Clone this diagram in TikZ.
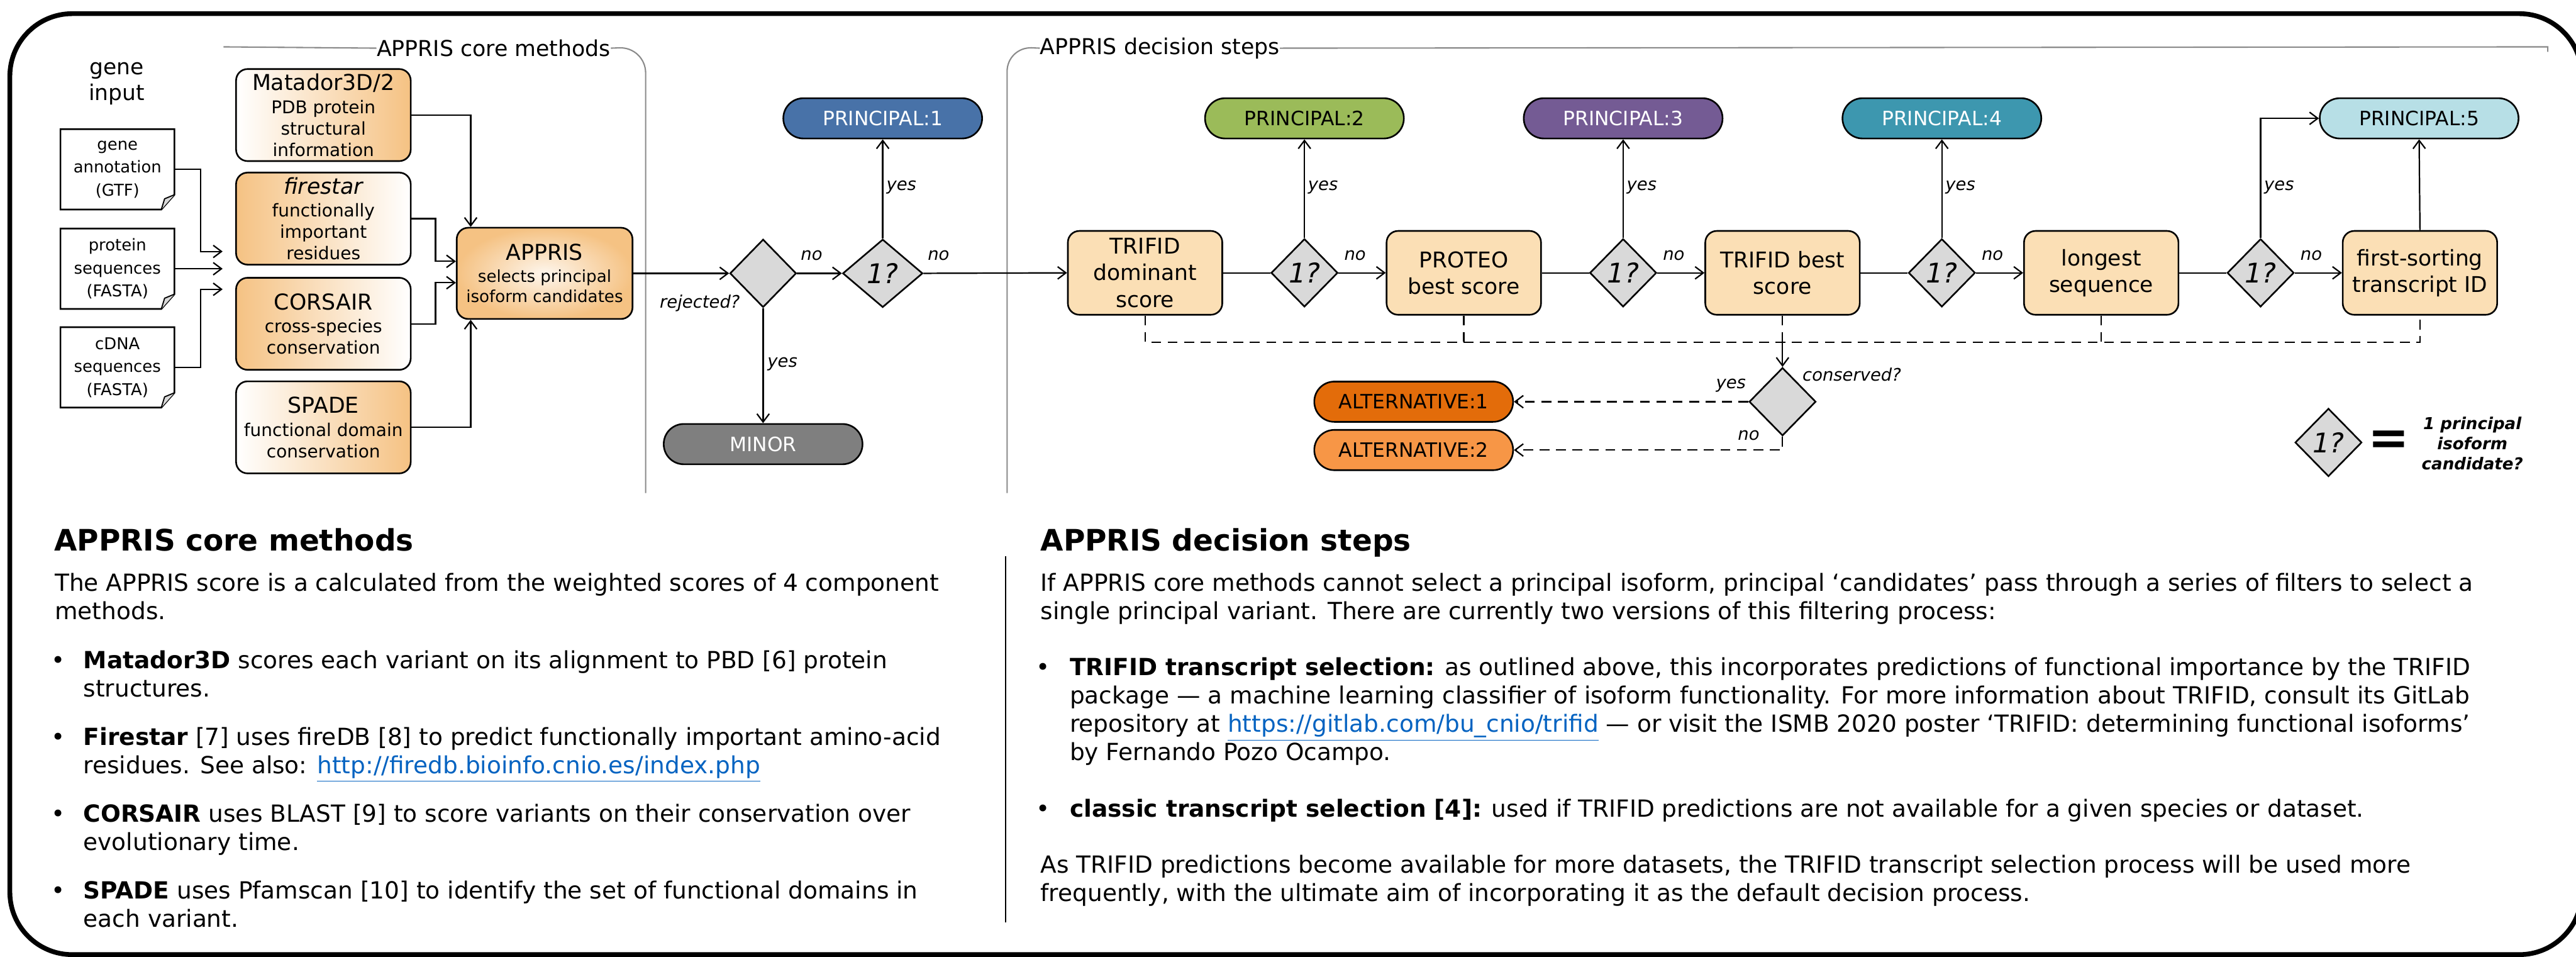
\documentclass[tikz,border=0pt]{standalone}
\usepackage{fontspec}
\setmainfont{DejaVu Sans}
\usetikzlibrary{shapes.geometric,arrows.meta,calc}
\definecolor{orng}{HTML}{F5C283}
\definecolor{peach}{HTML}{FBDFB5}
\definecolor{dgray}{HTML}{D9D9D9}
\definecolor{pblue}{HTML}{4872A8}
\definecolor{pgreen}{HTML}{9BBB59}
\definecolor{ppurple}{HTML}{745B94}
\definecolor{pteal}{HTML}{3D97AF}
\definecolor{pcyan}{HTML}{B7DFE6}
\definecolor{altA}{HTML}{E36C0A}
\definecolor{altB}{HTML}{F79646}
\definecolor{mgray}{HTML}{7F7F7F}
\definecolor{brk}{HTML}{8A8A8A}
\definecolor{lnk}{HTML}{0563C1}
\newcommand{\fs}[2]{\fontsize{#1}{#2}\selectfont}
\newcommand{\lnktxt}[1]{\textcolor{lnk}{\underline{#1}}}
\tikzset{
  conn/.style={line width=0.85pt, draw=black},
  arr/.style={conn, -{Straight Barb[length=5pt,width=7.5pt]}},
  dsh/.style={conn, dash pattern=on 6pt off 4pt},
  darr/.style={dsh, -{Straight Barb[length=5pt,width=7.5pt]}},
  brkline/.style={draw=brk, line width=0.8pt},
  method/.style={draw, line width=1pt, rounded corners=7pt, minimum width=106.3pt, minimum height=56pt, align=center, inner sep=0pt, font=\fs{10.7}{13}},
  dstep/.style={draw, line width=1pt, fill=peach, rounded corners=7pt, minimum width=94pt, minimum height=51pt, align=center, inner sep=0pt, font=\fs{13.2}{16.1}},
  dia/.style={diamond, draw, line width=1pt, fill=dgray, minimum width=40.6pt, minimum height=41.4pt, inner sep=0pt, font=\fs{16.5}{18}\itshape},
  pill/.style={draw, line width=1pt, rounded corners=12.2pt, minimum width=121pt, minimum height=24.5pt, inner sep=0pt, font=\fs{12}{14}},
  lbl/.style={font=\fs{10.5}{12}\itshape, inner sep=0pt},
  doc/.style={minimum width=69pt, minimum height=48.5pt, align=center, inner sep=0pt, font=\fs{9.9}{14}},
  bt/.style={anchor=base west, inner sep=0pt, font=\fs{14.35}{17}},
  hd/.style={anchor=base west, inner sep=0pt, font=\fs{18}{21}\bfseries},
  sect/.style={inner sep=0pt, font=\fs{13.3}{15}}
}
\begin{document}
\begin{tikzpicture}[x=1pt,y=-1pt]
\path[use as bounding box, fill=white] (0,0) rectangle (1568,582);
% outer frame
\draw[line width=2.9pt, rounded corners=38pt] (6,8.3) rectangle (1571.5,580.8);

% section brackets
\node[sect] (hcore) at (300.5,29.3) {APPRIS core methods};
\draw[brkline] (136,28.5) -- (hcore.west);
\draw[brkline, rounded corners=16pt] (hcore.east) -- (393,28.5) -- (393,300);
\node[sect] (hdec) at (706,29.3) {APPRIS decision steps};
\draw[brkline, rounded corners=15pt] (hdec.west) -- (613,28.5) -- (613,300);
\draw[brkline] (hdec.east) -- (1550.8,28.5) -- (1550.8,31.5);

% gene input
\node[font=\fs{13.2}{15.6}, align=center, inner sep=0pt] (gin) at (71,50.9) {gene\\input};
\node[doc] (d1) at (71.5,103) {gene\\annotation\\(GTF)};
\node[doc] (d2) at (71.5,163.5) {protein\\sequences\\(FASTA)};
\node[doc] (d3) at (71.5,223.5) {cDNA\\sequences\\(FASTA)};
\foreach \d in {d1,d2,d3}{
  \draw[line width=1pt] (\d.north west) -- (\d.north east) -- ($(\d.south east)+(0,-9)$) -- ($(\d.south east)+(-8,0)$) -- (\d.south west) -- cycle;
  \draw[line width=0.7pt, fill=dgray] ($(\d.south east)+(0,-9)$) -- ($(\d.south east)+(-6,-6.5)$) -- ($(\d.south east)+(-8,0)$);
}
\coordinate (in1) at (135.5,153);
\coordinate (in2) at (135.5,163.5);
\coordinate (in3) at (135.5,176);
\draw[arr] (d1.east) -- ++(16,0) |- (in1);
\draw[arr] (d2.east) -- (in2);
\draw[arr] (d3.east) -- ++(16,0) |- (in3);

% core methods
\node[method, left color=white, right color=orng] (mat) at (196.85,70) {{\fs{13.3}{15}Matador3D/2}\\[1pt]PDB protein\\structural\\information};
\node[method, left color=orng, right color=white] (fire) at (196.85,133) {{\fs{13.3}{15}\itshape firestar}\\[1pt]functionally\\important\\residues};
\node[method, left color=orng, right color=white] (cors) at (196.85,197) {{\fs{13.3}{15}CORSAIR}\\[1pt]cross-species\\conservation};
\node[method, left color=white, right color=orng] (spade) at (196.85,260) {{\fs{13.3}{15}SPADE}\\[1pt]functional domain\\conservation};
\node[draw, line width=1pt, rounded corners=7pt, inner color=orng!15, outer color=orng, minimum width=107pt, minimum height=55.5pt, align=center, inner sep=0pt, font=\fs{10}{12.2}] (appris) at (331.5,166.3) {{\fs{13.3}{15}APPRIS}\\[1pt]selects principal\\isoform candidates};
\draw[arr] (mat.east) -| ([xshift=-45pt]appris.north);
\draw[arr] (spade.east) -| ([xshift=-45pt]appris.south);
\draw[arr] (fire.east) -- ++(14.6,0) |- ([yshift=7.3pt]appris.west);
\draw[arr] (cors.east) -- ++(14.6,0) |- ([yshift=-5.7pt]appris.west);

% first decisions
\node[dia, minimum width=40.4pt] (rej) at (464.5,166.3) {};
\node[dia, minimum width=48.7pt] (q0) at (537.3,166.3) {1?};
\node[pill, fill=pblue, text=white] (p1) at (537.3,72) {PRINCIPAL:1};
\node[pill, fill=mgray, text=white] (minor) at (464.5,270.2) {MINOR};
\draw[arr] (appris.east) -- (rej.west);
\draw[arr] (rej.east) -- (q0.west);
\draw[arr] (rej.south) -- (minor.north);
\draw[arr] (q0.north) -- (p1.south);
\node[lbl] (lno0) at (494,155.6) {no};
\node[lbl] (lrej) at (426,184.4) {rejected?};
\node[lbl, anchor=west] (lyes0) at (467,221.7) {yes};
\node[lbl, anchor=west] (lyes1) at (539.4,114) {yes};
\node[lbl] (lno1) at (571.3,155.6) {no};

% decision steps
\node[dstep] (b1) at (697,166) {TRIFID\\dominant\\score};
\node[dstep] (b2) at (891,166) {PROTEO\\best score};
\node[dstep] (b3) at (1085,166) {TRIFID best\\score};
\node[dstep] (b4) at (1279,166) {longest\\sequence};
\node[dstep] (b5) at (1473,166) {first-sorting\\transcript ID};
\draw[arr] (q0.east) -- (b1.west);
\node[dia] (q1) at (794,166) {1?};
\node[dia] (q2) at (988,166) {1?};
\node[dia] (q3) at (1182,166) {1?};
\node[dia] (q4) at (1376,166) {1?};
\node[pill, fill=pgreen] (p2) at (794,72) {PRINCIPAL:2};
\node[pill, fill=ppurple, text=white] (p3) at (988,72) {PRINCIPAL:3};
\node[pill, fill=pteal, text=white] (p4) at (1182,72) {PRINCIPAL:4};
\node[pill, fill=pcyan] (p5) at (1472.5,72) {PRINCIPAL:5};
\draw[conn] (b1.east) -- (q1.west);
\draw[conn] (b2.east) -- (q2.west);
\draw[conn] (b3.east) -- (q3.west);
\draw[conn] (b4.east) -- (q4.west);
\draw[arr] (q1.east) -- (b2.west);
\draw[arr] (q2.east) -- (b3.west);
\draw[arr] (q3.east) -- (b4.west);
\draw[arr] (q4.east) -- (b5.west);
\draw[arr] (q1.north) -- (p2.south);
\draw[arr] (q2.north) -- (p3.south);
\draw[arr] (q3.north) -- (p4.south);
\draw[arr] (q4.north) |- (p5.west);
\draw[arr] (b5.north) -- (p5.south);
\node[lbl, anchor=west] (lyes2) at (796,114) {yes};
\node[lbl, anchor=west] (lyes3) at (990,114) {yes};
\node[lbl, anchor=west] (lyes4) at (1184,114) {yes};
\node[lbl, anchor=west] (lyes5) at (1378,114) {yes};
\node[lbl] (lno2) at (824.8,155.6) {no};
\node[lbl] (lno3) at (1018.8,155.6) {no};
\node[lbl] (lno4) at (1212.8,155.6) {no};
\node[lbl] (lno5) at (1406.8,155.6) {no};

% dashed collection line
\foreach \b in {b1,b2,b3,b4,b5}{ \coordinate (j\b) at ($(\b.south)+(0,16.2)$); }
\draw[dsh] (b1.south) -- (jb1) -- (jb5) -- (b5.south);
\draw[dsh] (b2.south) -- (jb2);
\draw[dsh] (b3.south) -- (jb3);
\draw[dsh] (b4.south) -- (jb4);
\node[dia] (cons) at (1085,244.4) {};
\draw[arr] (jb3) -- (cons.north);
\node[pill, fill=altA] (a1) at (860.5,244.4) {ALTERNATIVE:1};
\node[pill, fill=altB] (a2) at (860.5,273.8) {ALTERNATIVE:2};
\draw[darr] (cons.west) -- (a1.east);
\draw[darr] (cons.south) |- (a2.east);
\node[lbl, anchor=west] (lcons) at (1097,228) {conserved?};
\node[lbl] (lyesc) at (1053.6,234.4) {yes};
\node[lbl] (lnoc) at (1064.4,265) {no};

% legend
\node[dia] (lg) at (1417.3,269.2) {1?};
\node[inner sep=0pt, font=\fs{30}{32}\bfseries] (eq) at (1454,269.5) {=};
\node[inner sep=0pt, align=center, font=\fs{10}{12.3}\bfseries\itshape] (lgt) at (1504.9,269.7) {1 principal\\isoform\\candidate?};

% lower text: core methods
\node[hd] (t1h) at (32.8,335.2) {APPRIS core methods};
\node[bt] (t1a) at (33.2,359.5) {The APPRIS score is a calculated from the weighted scores of 4 component};
\node[bt] (t1b) at (33.2,376.8) {methods.};
\node[bt] (t1c0) at (31,406.7) {•};
\node[bt] (t1c) at (50.6,406.7) {\textbf{Matador3D} scores each variant on its alignment to PBD [6] protein};
\node[bt] (t1d) at (50.6,424) {structures.};
\node[bt] (t1e0) at (31,453.4) {•};
\node[bt] (t1e) at (50.6,453.4) {\textbf{Firestar} [7] uses fireDB [8] to predict functionally important amino-acid};
\node[bt] (t1f) at (50.6,470.7) {residues. See also: \lnktxt{http://firedb.bioinfo.cnio.es/index.php}};
\node[bt] (t1g0) at (31,500.3) {•};
\node[bt] (t1g) at (50.6,500.3) {\textbf{CORSAIR} uses BLAST [9] to score variants on their conservation over};
\node[bt] (t1h2) at (50.6,517.4) {evolutionary time.};
\node[bt] (t1i0) at (31,547) {•};
\node[bt] (t1i) at (50.6,547) {\textbf{SPADE} uses Pfamscan [10] to identify the set of functional domains in};
\node[bt] (t1j) at (50.6,564.1) {each variant.};

\coordinate (sepT) at (612.2,338.5);
\coordinate (sepB) at (612.2,561);
\draw[line width=0.6pt] (sepT) -- (sepB);

% lower text: decision steps
\node[hd] (t2h) at (633.2,335.2) {APPRIS decision steps};
\node[bt] (t2a) at (633.2,359.5) {If APPRIS core methods cannot select a principal isoform, principal ‘candidates’ pass through a series of filters to select a};
\node[bt] (t2b) at (633.2,376.8) {single principal variant. There are currently two versions of this filtering process:};
\node[bt] (t2c0) at (630.3,411) {•};
\node[bt] (t2c) at (651,411) {\textbf{TRIFID transcript selection:} as outlined above, this incorporates predictions of functional importance by the TRIFID};
\node[bt] (t2d) at (651,428.3) {package — a machine learning classifier of isoform functionality. For more information about TRIFID, consult its GitLab};
\node[bt] (t2e) at (651,445.5) {repository at \lnktxt{https://gitlab.com/bu\_cnio/trifid} — or visit the ISMB 2020 poster ‘TRIFID: determining functional isoforms’};
\node[bt] (t2f) at (651,462.8) {by Fernando Pozo Ocampo.};
\node[bt] (t2g0) at (630.3,497) {•};
\node[bt] (t2g) at (651,497) {\textbf{classic transcript selection [4]:} used if TRIFID predictions are not available for a given species or dataset.};
\node[bt] (t2i) at (633.2,531) {As TRIFID predictions become available for more datasets, the TRIFID transcript selection process will be used more};
\node[bt] (t2j) at (633.2,548.3) {frequently, with the ultimate aim of incorporating it as the default decision process.};
\end{tikzpicture}
\end{document}
